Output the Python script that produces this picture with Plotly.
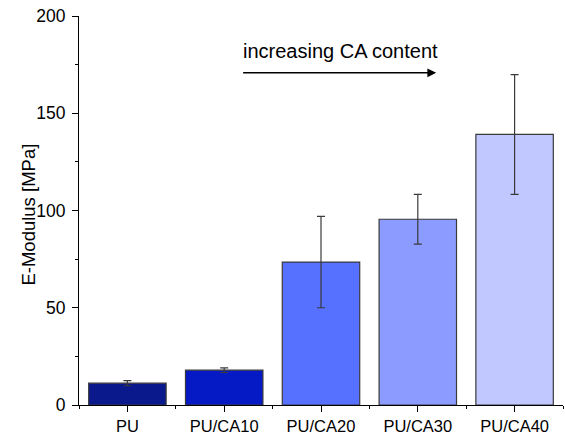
import plotly.graph_objects as go

# Young's modulus of PU and PU/CA blends
categories = ["PU", "PU/CA10", "PU/CA20", "PU/CA30", "PU/CA40"]
modulus = [11.2, 17.9, 73.5, 95.5, 139.1]
modulus_err = [1.3, 1.2, 23.5, 12.8, 30.8]
bar_colors = ["#0a1a8c", "#0519c4", "#5670ff", "#8b9bff", "#c0c8ff"]
y_ticks = [0, 50, 100, 150, 200]

positions = list(range(len(categories)))
font_family = "Liberation Sans, Arial, sans-serif"

fig = go.Figure(
    go.Bar(
        x=positions,
        y=modulus,
        width=0.8,
        marker=dict(color=bar_colors, line=dict(color="#3a3a3a", width=1.2)),
        error_y=dict(type="data", array=modulus_err, color="#3a3a3a",
                     thickness=1.2, width=4),
    )
)

fig.update_layout(
    width=565, height=437,
    margin=dict(l=79, r=2, t=16, b=30),
    paper_bgcolor="white", plot_bgcolor="white",
    showlegend=False,
    font=dict(family=font_family, color="black", size=16),
    xaxis=dict(
        range=[-0.5, 4.5],
        tickvals=positions, ticktext=categories,
        ticks="outside", ticklen=6, tickwidth=1, tickcolor="black",
        showline=True, linecolor="black", linewidth=1,
        showgrid=False, zeroline=False,
        tickfont=dict(size=16.5),
        minor=dict(tick0=0.5, dtick=1, ticks="outside", ticklen=3,
                   tickcolor="black", showgrid=False),
    ),
    yaxis=dict(
        range=[0, 200],
        tickvals=y_ticks,
        ticks="outside", ticklen=6, tickwidth=1, tickcolor="black",
        showline=True, linecolor="black", linewidth=1,
        showgrid=False, zeroline=False,
        tickfont=dict(size=17.5),
        ticklabelstandoff=3,
        minor=dict(dtick=25, ticks="outside", ticklen=3,
                   tickcolor="black", showgrid=False),
    ),
)

# y-axis title placed close to the tick labels
fig.add_annotation(
    x=-0.105, y=0.49, xref="paper", yref="paper",
    text="E-Modulus [MPa]", textangle=-90, showarrow=False,
    xanchor="center", yanchor="middle",
    font=dict(size=18.5, color="black"),
)

# trend arrow and caption
fig.add_annotation(
    x=3.19, y=170.8, xref="x", yref="y",
    ax=1.18, ay=170.8, axref="x", ayref="y",
    text="", showarrow=True, arrowhead=2, arrowsize=1.1,
    arrowwidth=1.6, arrowcolor="black",
)
fig.add_annotation(
    x=1.17, y=182.0, xref="x", yref="y",
    text="increasing CA content", showarrow=False,
    xanchor="left", yanchor="middle",
    font=dict(size=20, color="black"),
)

fig.write_html("out.html")
